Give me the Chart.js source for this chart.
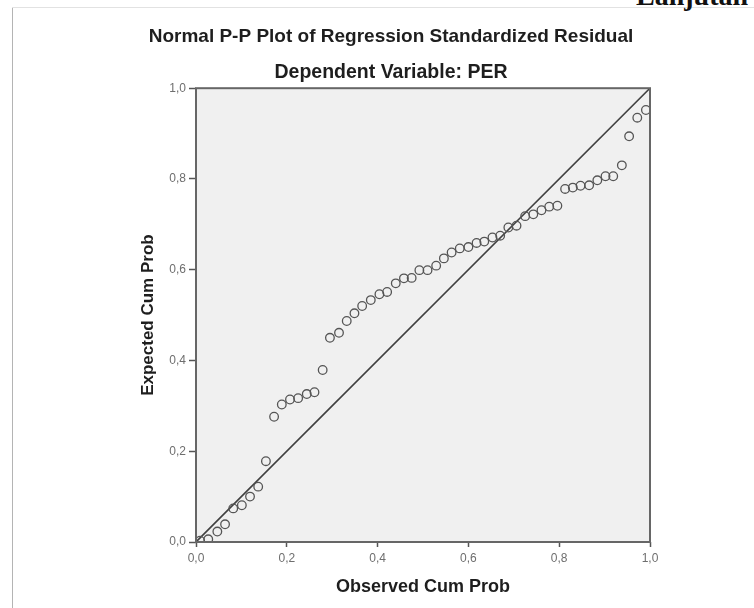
<!DOCTYPE html>
<html>
<head>
<meta charset="utf-8">
<script src="https://cdn.jsdelivr.net/npm/chart.js@4"></script>
<style>
  html, body { margin: 0; padding: 0; background: #ffffff; }
  body { width: 754px; height: 608px; position: relative; overflow: hidden; }
  #wrap { position: absolute; left: 0; top: 0; width: 754px; height: 608px; }
  #frameV { position: absolute; left: 12px; top: 7px; width: 1px; height: 601px; background: #b4b4b4; }
  #frameH { position: absolute; left: 12px; top: 7px; width: 742px; height: 1px; background: #e2e2e2; }
  #lanjutan { position: absolute; left: 636px; top: -18px; font-family: "Liberation Serif", "DejaVu Serif", serif;
              font-weight: bold; font-size: 28px; line-height: 1; color: #111; white-space: nowrap; }
</style>
</head>
<body>
<div id="frameV"></div>
<div id="frameH"></div>
<div id="lanjutan">Lanjutan</div>
<div id="wrap"><canvas id="c" width="754" height="608"></canvas></div>
<script>
// ---- data ----
const observedCumProb = [
  0.009, 0.027, 0.047, 0.064, 0.082, 0.101, 0.119, 0.137, 0.154, 0.172,
  0.189, 0.207, 0.225, 0.244, 0.261, 0.279, 0.295, 0.315, 0.332, 0.349,
  0.366, 0.385, 0.404, 0.421, 0.440, 0.458, 0.475, 0.492, 0.510, 0.529,
  0.546, 0.563, 0.581, 0.600, 0.618, 0.635, 0.653, 0.670, 0.688, 0.706,
  0.725, 0.743, 0.761, 0.778, 0.796, 0.813, 0.830, 0.847, 0.866, 0.884,
  0.902, 0.919, 0.938, 0.954, 0.972, 0.991
];
const expectedCumProb = [
  0.003, 0.006, 0.023, 0.039, 0.074, 0.081, 0.100, 0.122, 0.178, 0.276,
  0.303, 0.314, 0.317, 0.326, 0.330, 0.379, 0.450, 0.461, 0.487, 0.504,
  0.520, 0.533, 0.546, 0.551, 0.570, 0.581, 0.582, 0.599, 0.599, 0.609,
  0.625, 0.638, 0.647, 0.650, 0.659, 0.662, 0.671, 0.675, 0.693, 0.697,
  0.718, 0.722, 0.731, 0.739, 0.741, 0.778, 0.781, 0.785, 0.786, 0.797,
  0.806, 0.806, 0.830, 0.894, 0.935, 0.952
];
const refLineX = [0, 1];
const refLineY = [0, 1];
const tickValues = [0, 0.2, 0.4, 0.6, 0.8, 1.0];
const tickLabels = ['0,0', '0,2', '0,4', '0,6', '0,8', '1,0'];
const titleText = 'Normal P-P Plot of Regression Standardized Residual';
const subtitleText = 'Dependent Variable: PER';
const xTitle = 'Observed Cum Prob';
const yTitle = 'Expected Cum Prob';

const points = observedCumProb.map((x, i) => ({ x: x, y: expectedCumProb[i] }));
const refLine = refLineX.map((x, i) => ({ x: x, y: refLineY[i] }));

function labelFor(v) {
  const i = tickValues.findIndex(t => Math.abs(t - v) < 1e-6);
  return i >= 0 ? tickLabels[i] : '';
}

const plotFrame = {
  id: 'plotFrame',
  beforeDatasetsDraw(chart) {
    const { ctx, chartArea: a } = chart;
    ctx.save();
    ctx.fillStyle = '#f0f0f0';
    ctx.fillRect(a.left, a.top, a.right - a.left, a.bottom - a.top);
    ctx.restore();
  },
  afterDatasetsDraw(chart) {
    const { ctx, chartArea: a } = chart;
    ctx.save();
    ctx.strokeStyle = '#666666';
    ctx.lineWidth = 2;
    ctx.strokeRect(a.left, a.top, a.right - a.left, a.bottom - a.top);
    ctx.restore();
  }
};

const FONT = "'Liberation Sans', Arial, sans-serif";

new Chart(document.getElementById('c'), {
  type: 'scatter',
  data: {
    datasets: [
      {
        type: 'line',
        data: refLine,
        borderColor: '#404040',
        borderWidth: 1.6,
        pointRadius: 0,
        fill: false,
        order: 2
      },
      {
        data: points,
        pointStyle: 'circle',
        pointRadius: 4.3,
        pointBorderWidth: 1.3,
        pointBorderColor: '#555555',
        pointBackgroundColor: 'rgba(0,0,0,0)',
        order: 1
      }
    ]
  },
  options: {
    responsive: false,
    animation: false,
    devicePixelRatio: 1,
    layout: { padding: { left: 132, right: 104, top: 0, bottom: 0 } },
    plugins: {
      legend: { display: false },
      tooltip: { enabled: false },
      title: {
        display: true,
        text: titleText,
        color: '#1e1e1e',
        font: { family: FONT, size: 19, weight: 'bold', lineHeight: 1.2 },
        padding: { top: 25.6, bottom: 0 }
      },
      subtitle: {
        display: true,
        text: subtitleText,
        color: '#1e1e1e',
        font: { family: FONT, size: 19.5, weight: 'bold', lineHeight: 1.2 },
        padding: { top: 13, bottom: 3.4 }
      }
    },
    scales: {
      x: {
        type: 'linear',
        min: 0, max: 1,
        afterBuildTicks(scale) { scale.ticks = tickValues.map(v => ({ value: v })); },
        afterFit(scale) { scale.height = 66; },
        ticks: {
          callback: (v) => labelFor(v),
          color: '#6e6e6e',
          font: { family: FONT, size: 12 },
          padding: 4,
          maxRotation: 0
        },
        grid: {
          display: true,
          drawOnChartArea: false,
          drawTicks: true,
          tickLength: 5,
          tickWidth: 1.5,
          tickColor: '#555555'
        },
        border: { display: false },
        title: {
          display: true,
          text: xTitle,
          color: '#1e1e1e',
          font: { family: FONT, size: 18, weight: 'bold', lineHeight: 1.2 },
          padding: { top: 0, bottom: 10 }
        }
      },
      y: {
        type: 'linear',
        min: 0, max: 1,
        afterBuildTicks(scale) { scale.ticks = tickValues.map(v => ({ value: v })); },
        afterFit(scale) { scale.width = 64; },
        ticks: {
          callback: (v) => labelFor(v),
          color: '#6e6e6e',
          font: { family: FONT, size: 12 },
          padding: 3
        },
        grid: {
          display: true,
          drawOnChartArea: false,
          drawTicks: true,
          tickLength: 7,
          tickWidth: 1.5,
          tickColor: '#555555'
        },
        border: { display: false },
        title: {
          display: true,
          text: yTitle,
          color: '#1e1e1e',
          font: { family: FONT, size: 17, weight: 'bold', lineHeight: 1.2 },
          padding: { top: 6, bottom: 0 }
        }
      }
    }
  },
  plugins: [plotFrame]
});
</script>
</body>
</html>
